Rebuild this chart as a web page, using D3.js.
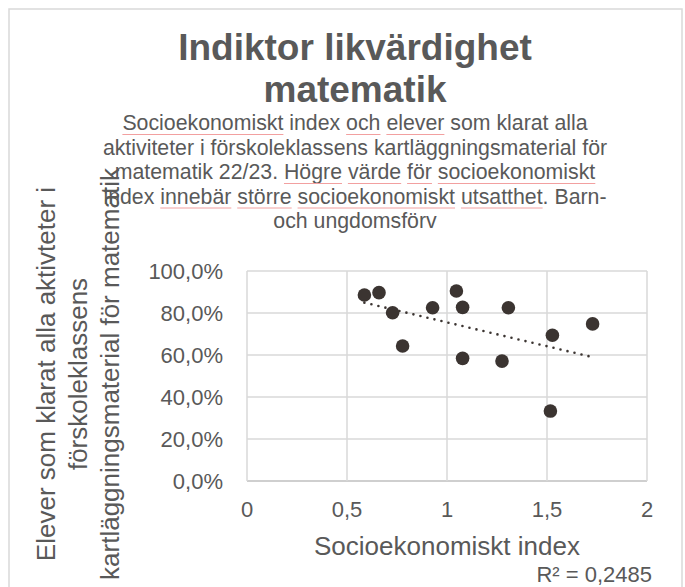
<!DOCTYPE html>
<html>
<head>
<meta charset="utf-8">
<script src="https://cdn.jsdelivr.net/npm/d3@7.9.0/dist/d3.min.js"></script>
<style>
  body { margin: 0; background: #fff; }
  svg text { font-family: "Liberation Sans", Arial, sans-serif; fill: #595959; }
</style>
</head>
<body>
<div id="chart"></div>
<script>
// Socioeconomic index per school / share of pupils passing all activities
const indexValues = [0.587, 0.66, 0.728, 0.778, 0.928, 1.047, 1.078, 1.078, 1.307, 1.275, 1.527, 1.517, 1.728];
const shareValues = [0.886, 0.897, 0.801, 0.643, 0.825, 0.905, 0.827, 0.584, 0.825, 0.571, 0.694, 0.333, 0.748];

const xTicks = [0, 0.5, 1, 1.5, 2];
const yTicks = [0, 0.2, 0.4, 0.6, 0.8, 1];

const titleLines = ['Indiktor likvärdighet', 'matematik'];
const subtitleLines = [
  'Socioekonomiskt index och elever som klarat alla',
  'aktiviteter i förskoleklassens kartläggningsmaterial för',
  'matematik 22/23. Högre värde för socioekonomiskt',
  'index innebär större socioekonomiskt utsatthet. Barn-',
  'och ungdomsförv'
];
// words flagged by the spell checker (red squiggle)
const flaggedWords = [
  ['Socioekonomiskt', 'och', 'elever'],
  [],
  ['Högre', 'värde', 'för', 'socioekonomiskt'],
  ['innebär', 'större', 'socioekonomiskt', 'utsatthet'],
  []
];
const yTitleLines = [
  'Elever som klarat alla aktivteter i',
  'förskoleklassens',
  'kartläggningsmaterial för matematik'
];
const xTitle = 'Socioekonomiskt index';
const r2Label = 'R² = 0,2485';

const width = 685, height = 587;
const svg = d3.select('#chart').append('svg')
  .attr('width', width).attr('height', height);

// chart border
svg.append('rect')
  .attr('x', 9).attr('y', 9).attr('width', 673).attr('height', 600)
  .attr('fill', 'none').attr('stroke', '#d9d9d9').attr('stroke-width', 1.5);

const sv = d3.formatLocale({ decimal: ',', thousands: ' ', grouping: [3], currency: ['', ' kr'] });
const fmtPct = sv.format('.1%');
const fmtNum = sv.format('~g');

const x = d3.scaleLinear().domain([0, 2]).range([247, 647]);
const y = d3.scaleLinear().domain([0, 1]).range([481, 271]);

// gridlines
const grid = svg.append('g').attr('stroke', '#d9d9d9').attr('stroke-width', 1.5);
grid.selectAll('.h').data(yTicks).join('line')
  .attr('x1', x(0)).attr('x2', x(2))
  .attr('y1', d => y(d)).attr('y2', d => y(d))
  .attr('stroke', d => d === 0 ? '#bfbfbf' : '#d9d9d9');
grid.selectAll('.v').data(xTicks).join('line')
  .attr('x1', d => x(d)).attr('x2', d => x(d))
  .attr('y1', y(0)).attr('y2', y(1));

// tick labels
svg.append('g').selectAll('text').data(yTicks).join('text')
  .attr('x', 223).attr('y', d => y(d) + 8)
  .attr('text-anchor', 'end').attr('font-size', 22)
  .text(d => fmtPct(d));
svg.append('g').selectAll('text').data(xTicks).join('text')
  .attr('x', d => x(d)).attr('y', 517)
  .attr('text-anchor', 'middle').attr('font-size', 22)
  .text(d => fmtNum(d));

// trendline (least squares)
const mx = d3.mean(indexValues), my = d3.mean(shareValues);
const sxy = d3.sum(indexValues, (v, i) => (v - mx) * (shareValues[i] - my));
const sxx = d3.sum(indexValues, v => (v - mx) ** 2);
const slope = sxy / sxx, icpt = my - slope * mx;
const [xMin, xMax] = d3.extent(indexValues);
svg.append('line')
  .attr('x1', x(xMin)).attr('y1', y(icpt + slope * xMin))
  .attr('x2', x(xMax)).attr('y2', y(icpt + slope * xMax))
  .attr('stroke', '#3b3431').attr('stroke-width', 2.6)
  .attr('stroke-linecap', 'round').attr('stroke-dasharray', '0,7.2');

// points
svg.append('g').selectAll('circle').data(indexValues).join('circle')
  .attr('cx', d => x(d)).attr('cy', (d, i) => y(shareValues[i]))
  .attr('r', 6.8).attr('fill', '#3b3431');

// y axis title
const yt = svg.append('text')
  .attr('transform', 'translate(55,374) rotate(-90)')
  .attr('text-anchor', 'middle').attr('font-size', 26);
yTitleLines.forEach((t, i) => {
  yt.append('tspan').attr('x', 0).attr('y', i * 32).text(t);
});

// x axis title + R²
svg.append('text').attr('x', 447).attr('y', 555)
  .attr('text-anchor', 'middle').attr('font-size', 26).text(xTitle);
svg.append('text').attr('x', 652).attr('y', 582)
  .attr('text-anchor', 'end').attr('font-size', 22).text(r2Label);

// title
svg.append('g').selectAll('text').data(titleLines).join('text')
  .attr('x', 355).attr('y', (d, i) => 60 + i * 42)
  .attr('text-anchor', 'middle').attr('font-size', 37).attr('font-weight', 'bold')
  .text(d => d);

// subtitle with spell-check squiggles
subtitleLines.forEach((line, i) => {
  const yy = 130 + i * 24.5;
  const t = svg.append('text').attr('x', 355).attr('y', yy)
    .attr('text-anchor', 'middle').attr('font-size', 21.3).text(line);
  const node = t.node();
  let from = 0;
  flaggedWords[i].forEach(w => {
    const idx = line.indexOf(w, from);
    if (idx < 0) return;
    from = idx + w.length;
    const x0 = node.getStartPositionOfChar(idx).x;
    const len = node.getSubStringLength(idx, w.length);
    svg.append('line')
      .attr('x1', x0).attr('x2', x0 + len)
      .attr('y1', yy + 4.5).attr('y2', yy + 4.5)
      .attr('stroke', '#f2a0a0').attr('stroke-width', 1);
  });
});
</script>
</body>
</html>
